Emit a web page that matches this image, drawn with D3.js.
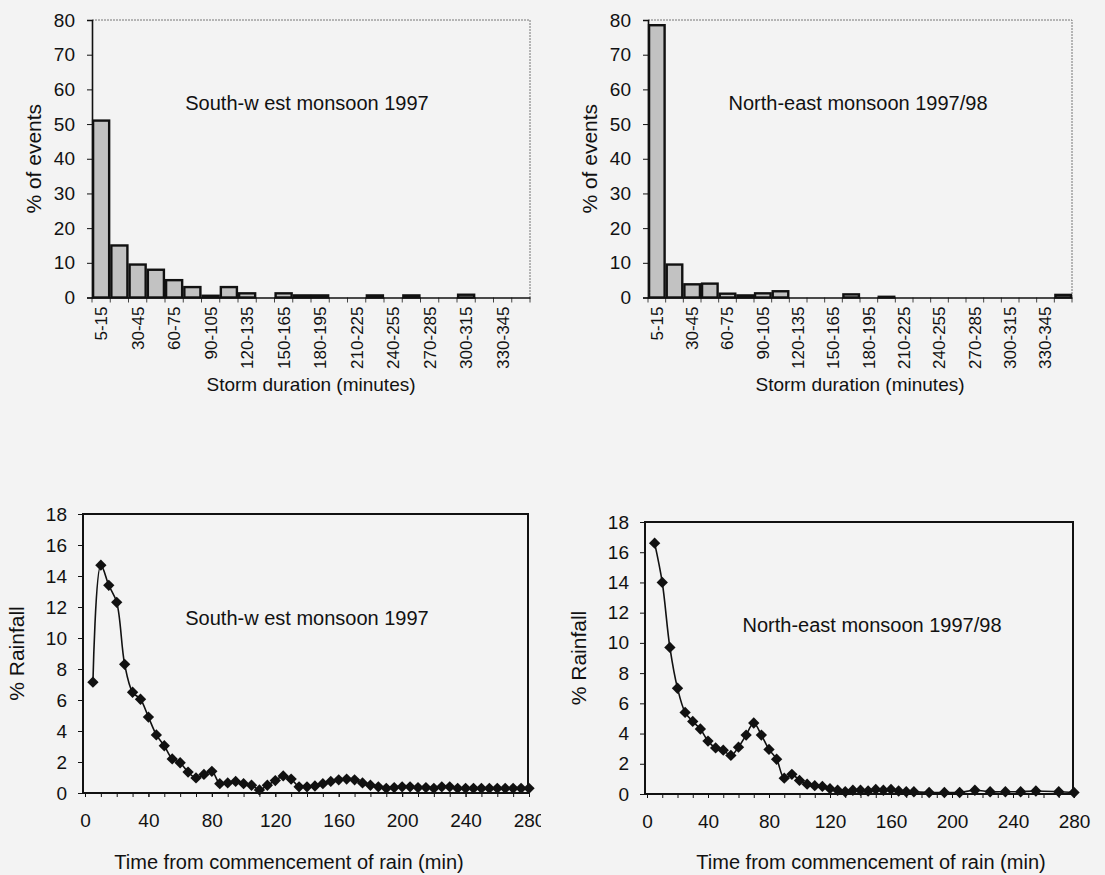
<!DOCTYPE html>
<html>
<head>
<meta charset="utf-8">
<script src="https://cdn.jsdelivr.net/npm/d3@7"></script>
<style>
  body { margin: 0; background: #f3f3f3; }
  svg { display: block; font-family: "Liberation Sans", Arial, sans-serif; }
  .axis path, .axis line { stroke: #111; }
  .axis text { fill: #111; }
</style>
</head>
<body>
<script>
// storm duration classes (minutes)
var durationCats = ["5-15", "15-30", "30-45", "45-60", "60-75", "75-90", "90-105", "105-120",
  "120-135", "135-150", "150-165", "165-180", "180-195", "195-210", "210-225", "225-240",
  "240-255", "255-270", "270-285", "285-300", "300-315", "315-330", "330-345", "345-360"];

// % of events per duration class
var swEvents = [51, 15, 9.5, 8, 5, 3, 0.5, 3, 1.2, 0, 1.2, 0.6, 0.6, 0, 0, 0.6, 0, 0.6, 0, 0, 0.8, 0, 0, 0];
var neEvents = [78.5, 9.5, 3.8, 4, 1.1, 0.6, 1.2, 1.8, 0, 0, 0, 0.9, 0, 0.2, 0, 0, 0, 0, 0, 0, 0, 0, 0, 0.75];

// time from commencement of rain (min) and % rainfall
var swTime = [5, 10, 15, 20, 25, 30, 35, 40, 45, 50, 55, 60, 65, 70, 75, 80, 85, 90, 95, 100,
  105, 110, 115, 120, 125, 130, 135, 140, 145, 150, 155, 160, 165, 170, 175, 180, 185, 190, 195, 200,
  205, 210, 215, 220, 225, 230, 235, 240, 245, 250, 255, 260, 265, 270, 275, 280];
var swRain = [7.15, 14.7, 13.4, 12.3, 8.3, 6.5, 6.05, 4.9, 3.75, 3.05, 2.2, 1.95, 1.35, 0.97, 1.2, 1.4, 0.6, 0.65, 0.75, 0.6,
  0.5, 0.2, 0.5, 0.8, 1.1, 0.9, 0.4, 0.4, 0.45, 0.6, 0.75, 0.85, 0.9, 0.85, 0.65, 0.5, 0.4, 0.3, 0.35, 0.4,
  0.4, 0.35, 0.35, 0.3, 0.4, 0.4, 0.3, 0.3, 0.3, 0.3, 0.3, 0.3, 0.3, 0.3, 0.3, 0.3];

var neTime = [5, 10, 15, 20, 25, 30, 35, 40, 45, 50, 55, 60, 65, 70, 75, 80, 85, 90, 95, 100,
  105, 110, 115, 120, 125, 130, 135, 140, 145, 150, 155, 160, 165, 170, 175,
  185, 195, 205, 215, 225, 235, 245, 255, 270, 280];
var neRain = [16.6, 14.0, 9.7, 7.0, 5.4, 4.8, 4.3, 3.5, 3.05, 2.9, 2.55, 3.1, 3.9, 4.7, 3.9, 2.95, 2.3, 1.05, 1.3, 0.9,
  0.65, 0.55, 0.5, 0.35, 0.25, 0.15, 0.25, 0.25, 0.2, 0.3, 0.25, 0.3, 0.2, 0.15, 0.15,
  0.1, 0.1, 0.1, 0.25, 0.15, 0.15, 0.15, 0.2, 0.15, 0.1];

var eventTicks = [0, 10, 20, 30, 40, 50, 60, 70, 80];
var rainTicks = [0, 2, 4, 6, 8, 10, 12, 14, 16, 18];
var timeTicks = [0, 40, 80, 120, 160, 200, 240, 280];

var svg = d3.select("body").append("svg")
  .attr("width", 1105)
  .attr("height", 875);

svg.append("rect")
  .attr("width", 1105)
  .attr("height", 875)
  .attr("fill", "#f3f3f3");

// square diamond like the excel marker
var diamond = {
  draw: function(ctx, size) {
    var r = Math.sqrt(size / 2);
    ctx.moveTo(0, -r);
    ctx.lineTo(r, 0);
    ctx.lineTo(0, r);
    ctx.lineTo(-r, 0);
    ctx.closePath();
  }
};

function barChart(values, box, title) {
  var x = d3.scaleBand()
    .domain(durationCats)
    .range([box.left, box.right])
    .paddingInner(0.12)
    .paddingOuter(0.06);
  var xEdge = d3.scaleLinear()
    .domain([0, durationCats.length])
    .range([box.left, box.right]);
  var y = d3.scaleLinear()
    .domain([0, 80])
    .range([box.bottom, box.top]);

  var g = svg.append("g");

  // thin frame on top / right
  g.append("path")
    .attr("d", "M" + box.left + "," + box.top + "H" + box.right + "V" + box.bottom)
    .attr("fill", "none")
    .attr("stroke", "#777")
    .attr("stroke-width", 1)
    .attr("stroke-dasharray", "2,1");

  // boundary ticks between classes
  g.selectAll(".edge")
    .data(d3.range(durationCats.length + 1))
    .enter().append("line")
    .attr("x1", function(d) { return xEdge(d); })
    .attr("x2", function(d) { return xEdge(d); })
    .attr("y1", box.bottom)
    .attr("y2", box.bottom + 5)
    .attr("stroke", "#444")
    .attr("stroke-width", 1);

  var data = durationCats.map(function(c, i) { return { cat: c, v: values[i] }; })
    .filter(function(d) { return d.v > 0; });

  g.selectAll(".bar")
    .data(data)
    .enter().append("rect")
    .attr("class", "bar")
    .attr("x", function(d) { return x(d.cat); })
    .attr("y", function(d) { return y(d.v); })
    .attr("width", x.bandwidth())
    .attr("height", function(d) { return box.bottom - y(d.v); })
    .attr("fill", "#c2c2c2")
    .attr("stroke", "#111")
    .attr("stroke-width", 2.4);

  var xAxis = g.append("g")
    .attr("class", "axis")
    .attr("transform", "translate(0," + box.bottom + ")")
    .call(d3.axisBottom(x).tickSize(0).tickFormat(function(d, i) { return i % 2 === 0 ? d : ""; }));
  xAxis.select(".domain").attr("stroke-width", 1.6);
  xAxis.selectAll("text")
    .attr("y", 0)
    .attr("x", -9)
    .attr("dy", "0.35em")
    .attr("transform", "rotate(-90)")
    .style("text-anchor", "end")
    .style("font-size", "17px");

  var yAxis = g.append("g")
    .attr("class", "axis")
    .attr("transform", "translate(" + box.left + ",0)")
    .call(d3.axisLeft(y).tickValues(eventTicks).tickSize(5).tickPadding(12));
  yAxis.select(".domain").attr("stroke-width", 1.6);
  yAxis.selectAll("text").style("font-size", "19px");

  g.append("text")
    .attr("transform", "translate(" + (box.left - 51) + "," + ((box.top + box.bottom) / 2) + ") rotate(-90)")
    .attr("text-anchor", "middle")
    .style("font-size", "21px")
    .attr("fill", "#111")
    .text("% of events");

  g.append("text")
    .attr("x", (box.left + box.right) / 2)
    .attr("y", 391)
    .attr("text-anchor", "middle")
    .style("font-size", "19px")
    .attr("fill", "#111")
    .text("Storm duration (minutes)");

  g.append("text")
    .attr("x", title.x)
    .attr("y", title.y)
    .attr("text-anchor", "middle")
    .style("font-size", "20px")
    .attr("fill", "#111")
    .text(title.text);
}

function lineChart(times, values, box, title, clipId) {
  var x = d3.scaleLinear()
    .domain([0, 280])
    .range([box.x0, box.x1]);
  var y = d3.scaleLinear()
    .domain([0, 18])
    .range([box.bottom, box.top]);

  var g = svg.append("g");

  var xAxis = g.append("g")
    .attr("class", "axis")
    .attr("transform", "translate(0," + box.bottom + ")")
    .call(d3.axisBottom(x).tickValues(d3.range(0, 281, 10)).tickSize(4).tickFormat(""));
  xAxis.select(".domain").remove();

  var labels = g.append("g")
    .attr("class", "axis")
    .attr("transform", "translate(0," + box.bottom + ")")
    .call(d3.axisBottom(x).tickValues(timeTicks).tickSize(4).tickPadding(17));
  labels.select(".domain").remove();
  labels.selectAll("text").style("font-size", "19px");
  if (clipId) {
    svg.append("clipPath").attr("id", clipId)
      .append("rect").attr("x", 0).attr("y", 0).attr("width", box.clipX).attr("height", 875);
    labels.attr("clip-path", "url(#" + clipId + ")");
  }

  var yAxis = g.append("g")
    .attr("class", "axis")
    .attr("transform", "translate(" + box.left + ",0)")
    .call(d3.axisLeft(y).tickValues(rainTicks).tickSize(5).tickPadding(11));
  yAxis.select(".domain").remove();
  yAxis.selectAll("text").style("font-size", "19px");

  g.append("rect")
    .attr("x", box.left)
    .attr("y", box.top)
    .attr("width", box.right - box.left)
    .attr("height", box.bottom - box.top)
    .attr("fill", "none")
    .attr("stroke", "#111")
    .attr("stroke-width", 2);

  var pts = times.map(function(t, i) { return { t: t, v: values[i] }; });

  var line = d3.line()
    .curve(d3.curveCatmullRom)
    .x(function(d) { return x(d.t); })
    .y(function(d) { return y(d.v); });

  g.append("path")
    .attr("d", line(pts))
    .attr("fill", "none")
    .attr("stroke", "#111")
    .attr("stroke-width", 1.6);

  g.selectAll(".pt")
    .data(pts)
    .enter().append("path")
    .attr("class", "pt")
    .attr("transform", function(d) { return "translate(" + x(d.t) + "," + y(d.v) + ")"; })
    .attr("d", d3.symbol().type(diamond).size(64))
    .attr("fill", "#111");

  g.append("text")
    .attr("transform", "translate(" + (box.left - 59) + "," + ((box.top + box.bottom) / 2) + ") rotate(-90)")
    .attr("text-anchor", "middle")
    .style("font-size", "21px")
    .attr("fill", "#111")
    .text("% Rainfall");

  g.append("text")
    .attr("x", box.titleX)
    .attr("y", 869)
    .attr("text-anchor", "middle")
    .style("font-size", "20px")
    .attr("fill", "#111")
    .text("Time from commencement of rain (min)");

  g.append("text")
    .attr("x", title.x)
    .attr("y", title.y)
    .attr("text-anchor", "middle")
    .style("font-size", "20px")
    .attr("fill", "#111")
    .text(title.text);
}

barChart(swEvents, { left: 92, right: 530, top: 20, bottom: 297.5 },
  { text: "South-w est monsoon 1997", x: 307, y: 110 });
barChart(neEvents, { left: 648, right: 1072, top: 20, bottom: 297.5 },
  { text: "North-east monsoon 1997/98", x: 858, y: 110 });

lineChart(swTime, swRain,
  { left: 83, right: 528, x0: 85, x1: 529, top: 514, bottom: 793, clipX: 541, titleX: 289 },
  { text: "South-w est monsoon 1997", x: 307, y: 625 }, "clipSW");
lineChart(neTime, neRain,
  { left: 645, right: 1073, x0: 647, x1: 1074, top: 522, bottom: 794, titleX: 871 },
  { text: "North-east monsoon 1997/98", x: 872, y: 632 }, null);
</script>
</body>
</html>
